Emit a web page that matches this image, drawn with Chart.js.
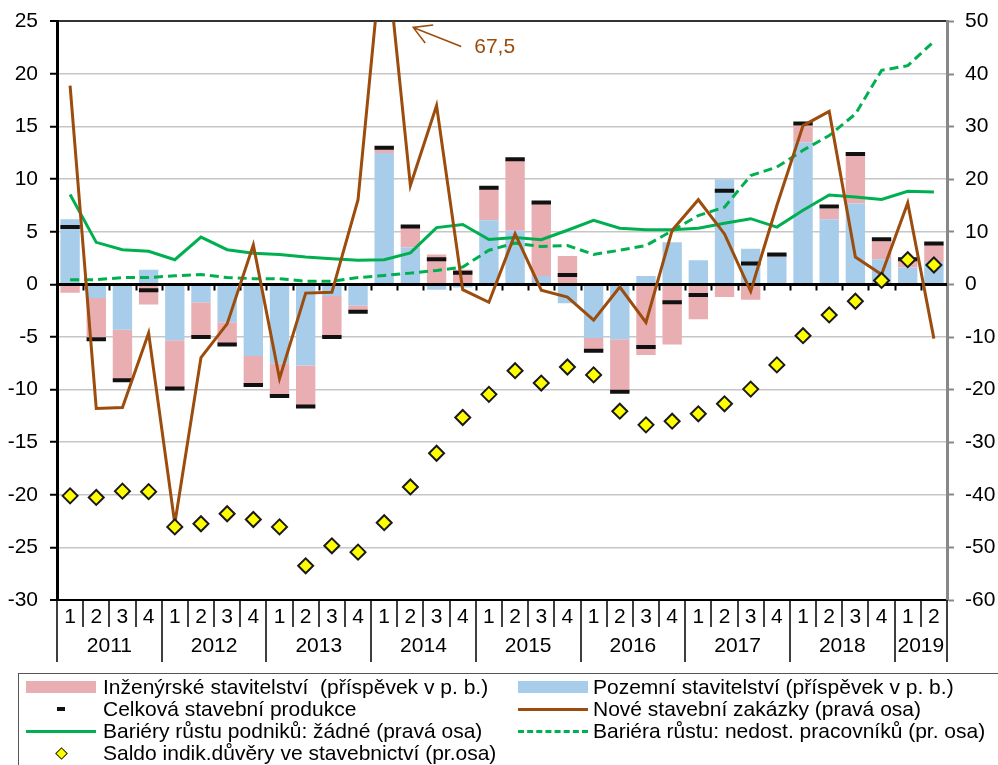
<!DOCTYPE html>
<html>
<head>
<meta charset="utf-8">
<script src="https://cdn.jsdelivr.net/npm/chart.js@4/dist/chart.umd.min.js"></script>
<style>
  html, body { margin: 0; padding: 0; background: #fff; }
  body { width: 998px; height: 765px; position: relative; overflow: hidden; font-family: 'Liberation Sans', Arial, sans-serif; }
  #chart { position: absolute; left: 0; top: 0; }
  .legend { position: absolute; left: 18px; top: 673px; width: 990px; height: 110px; border: 1px solid #555; box-sizing: border-box; }
  .item { position: absolute; font-size: 21px; color: #000; white-space: pre; line-height: 22px; height: 22px; }
  .sw { position: absolute; }
</style>
</head>
<body>
<canvas id="chart" width="998" height="765"></canvas>
<div class="legend" id="legend"></div>
<script>
// quarters 2011Q1 .. 2019Q2
const years = ['2011', '2012', '2013', '2014', '2015', '2016', '2017', '2018', '2019'];
const quarters = [];
years.forEach((y) => ['1', '2', '3', '4'].forEach((q) => { if (!(y === '2019' && +q > 2)) quarters.push(q); }));

// contributions (p. b.), left axis
const pozemni = [6.2, -1.3, -4.3, 1.4, -5.3, -1.7, -3.6, -6.8, -7.5, -7.7, -1.1, -2.0, 12.5, 3.5, -0.5, -0.3,
  6.1, 5.1, 0.8, -1.8, -5.1, -5.2, 0.8, 4.0, 2.3, 10.0, 3.4, 2.6, 13.5, 6.2, 7.7, 2.4, 1.6, 2.1];
const inzenyrske = [-0.8, -3.7, -4.7, -1.9, -4.5, -3.2, -2.0, -2.8, -3.1, -3.8, -3.8, -0.5, 0.4, 1.9, 2.85, 1.4,
  3.0, 6.7, 6.9, 2.7, -1.2, -5.0, -6.7, -5.7, -3.3, -1.2, -1.45, 0.2, 1.6, 1.0, 4.6, 1.7, 0.6, 1.7];
const celkova = [5.45, -5.2, -9.1, -0.55, -9.9, -5.0, -5.7, -9.55, -10.6, -11.6, -5.0, -2.6, 13.0, 5.5, 2.4, 1.1,
  9.2, 11.9, 7.8, 0.9, -6.3, -10.2, -5.95, -1.7, -1.0, 8.9, 2.0, 2.85, 15.3, 7.4, 12.4, 4.3, 2.4, 3.9];

// right axis
const zakazky = [37.8, -23.6, -23.4, -9.25, -45.5, -13.9, -7.5, 7.5, -17.9, -1.65, -1.5, 16.1, 67.5, 18.8, 34.0, -1.0,
  -3.4, 9.6, -1.1, -2.4, -6.8, -0.5, -7.2, 10.3, 16.1, 9.6, -1.3, 15.0, 30.2, 32.9, 5.2, 1.9, 15.5, -10.3];
const barieryZadne = [17.1, 8.0, 6.6, 6.3, 4.7, 9.0, 6.6, 5.95, 5.7, 5.2, 4.9, 4.6, 4.7, 6.0, 10.8, 11.4,
  8.55, 8.9, 8.5, 10.3, 12.2, 10.7, 10.4, 10.4, 10.7, 11.65, 12.5, 10.9, 14.1, 17.0, 16.6, 16.15, 17.7, 17.55];
const barieraPracovnici = [0.9, 0.9, 1.3, 1.3, 1.65, 1.9, 1.3, 1.1, 1.1, 0.6, 0.6, 1.3, 1.7, 2.15, 2.65, 3.3,
  6.5, 7.85, 7.2, 7.4, 5.7, 6.5, 7.4, 10.2, 13.1, 14.7, 20.7, 22.3, 25.5, 28.3, 32.4, 40.7, 41.6, 46.2];
const saldo = [-40.2, -40.5, -39.3, -39.4, -46.1, -45.5, -43.6, -44.7, -46.1, -53.5, -49.7, -50.9, -45.3, -38.5, -32.1, -25.3,
  -20.9, -16.4, -18.75, -15.7, -17.2, -24.1, -26.7, -26.0, -24.6, -22.7, -19.9, -15.3, -9.75, -5.8, -3.2, 0.76, 4.7, 3.7];

const PINK = '#E8AEB1', BLUE = '#A7CDEA', BROWN = '#9C4C0C', GREEN = '#00B050', YELLOW = '#FFFF00';
const FONT = "'Liberation Sans', Arial, sans-serif";

Chart.defaults.font.family = FONT;
Chart.defaults.font.size = 21;
Chart.defaults.color = '#000';

// category axis with quarters + years, ticks on zero line, zero line, note
const decor = {
  id: 'decor',
  beforeDatasetsDraw(chart) {
    const { ctx, chartArea: a, scales: { x, y } } = chart;
    const step = x.width / quarters.length;
    const y0 = y.getPixelForValue(0);
    ctx.save();
    ctx.strokeStyle = '#000';
    ctx.lineWidth = 2;
    ctx.beginPath();
    for (let i = 1; i < quarters.length; i++) {
      const bx = Math.round(a.left + i * step) + 0.5;
      ctx.moveTo(bx, y0);
      ctx.lineTo(bx, y0 + 6);
    }
    ctx.stroke();
    ctx.restore();
  },
  afterDatasetDraw(chart, args) {
    if (args.index !== 0) return;
    const { ctx, chartArea: a, scales: { y } } = chart;
    const y0 = y.getPixelForValue(0);
    ctx.save();
    ctx.strokeStyle = '#000';
    ctx.lineWidth = 3;
    ctx.beginPath();
    ctx.moveTo(a.left, y0);
    ctx.lineTo(a.right, y0);
    ctx.stroke();
    ctx.restore();
  },
  afterDraw(chart) {
    const { ctx, chartArea: a, scales: { x } } = chart;
    const step = x.width / quarters.length;
    ctx.save();
    ctx.strokeStyle = '#000';
    ctx.lineWidth = 1.5;
    ctx.beginPath();
    for (let i = 0; i <= quarters.length; i++) {
      const bx = Math.round(a.left + i * step);
      const yearEdge = i % 4 === 0 || i === quarters.length;
      ctx.moveTo(bx, a.bottom);
      ctx.lineTo(bx, a.bottom + (yearEdge ? 62 : 27));
    }
    ctx.stroke();
    ctx.fillStyle = '#000';
    ctx.font = '21px ' + FONT;
    ctx.textAlign = 'center';
    ctx.textBaseline = 'middle';
    quarters.forEach((q, i) => ctx.fillText(q, x.getPixelForValue(i), a.bottom + 17));
    years.forEach((yr, k) => {
      const first = k * 4;
      const last = Math.min(first + 3, quarters.length - 1);
      const cx = (x.getPixelForValue(first) + x.getPixelForValue(last)) / 2;
      ctx.fillText(yr, cx, a.bottom + 46);
    });

    // note for the clipped value
    const xp = x.getPixelForValue(12);
    const tip = [xp + 29, a.top + 6], tail = [xp + 77, a.top + 25];
    ctx.strokeStyle = BROWN;
    ctx.lineWidth = 1.5;
    ctx.beginPath();
    ctx.moveTo(tail[0], tail[1]);
    ctx.lineTo(tip[0], tip[1]);
    ctx.moveTo(tip[0] + 20, tip[1] - 2.5);
    ctx.lineTo(tip[0], tip[1]);
    ctx.lineTo(tip[0] + 12, tip[1] + 15.5);
    ctx.stroke();
    ctx.fillStyle = BROWN;
    ctx.font = '21px ' + FONT;
    ctx.textAlign = 'left';
    ctx.fillText(zakazky[12].toString().replace('.', ','), xp + 90, a.top + 26);
    ctx.restore();
  },
};

const gridColor = (c) => (c.tick.value === 25 ? '#333' : c.tick.value === -30 ? '#000' : c.tick.value === 0 ? 'rgba(0,0,0,0)' : '#C6C6C6');
const tickFont = { size: 21, lineHeight: 0.9 };

new Chart(document.getElementById('chart'), {
  data: {
    labels: quarters,
    datasets: [
      { type: 'bar', label: 'Pozemní stavitelství (příspěvek v p. b.)', data: pozemni, backgroundColor: BLUE, yAxisID: 'y', stack: 's', order: 10, barPercentage: 0.74, categoryPercentage: 1 },
      { type: 'bar', label: 'Inženýrské stavitelství  (příspěvek v p. b.)', data: inzenyrske, backgroundColor: PINK, yAxisID: 'y', stack: 's', order: 10, barPercentage: 0.74, categoryPercentage: 1 },
      { type: 'line', label: 'Celková stavební produkce', data: celkova, yAxisID: 'y', showLine: false, order: 5,
        pointStyle: 'line', pointRadius: 9.7, pointBorderWidth: 4, pointBorderColor: '#111', pointBackgroundColor: '#111' },
      { type: 'line', label: 'Bariéra růstu: nedost. pracovníků (pr. osa)', data: barieraPracovnici, yAxisID: 'y1', order: 4,
        borderColor: GREEN, borderWidth: 3, borderDash: [9, 5], pointRadius: 0, tension: 0 },
      { type: 'line', label: 'Bariéry růstu podniků: žádné (pravá osa)', data: barieryZadne, yAxisID: 'y1', order: 3,
        borderColor: GREEN, borderWidth: 3, pointRadius: 0, tension: 0 },
      { type: 'line', label: 'Nové stavební zakázky (pravá osa)', data: zakazky, yAxisID: 'y1', order: 2,
        borderColor: BROWN, borderWidth: 3, pointRadius: 0, tension: 0 },
      { type: 'line', label: 'Saldo indik.důvěry ve stavebnictví (pr.osa)', data: saldo, yAxisID: 'y1', showLine: false, order: 1,
        pointStyle: 'rectRot', pointRadius: 7.5, pointBorderWidth: 2, pointBorderColor: '#1a1a1a', pointBackgroundColor: YELLOW },
    ],
  },
  options: {
    responsive: false,
    animation: false,
    events: [],
    layout: { padding: { top: 21, left: 0, right: 0, bottom: 0 } },
    plugins: { legend: { display: false }, tooltip: { enabled: false } },
    scales: {
      x: {
        stacked: true,
        ticks: { display: false },
        grid: { display: false },
        border: { display: false },
        afterFit: (s) => { s.height = 165; },
      },
      y: {
        position: 'left',
        stacked: true,
        min: -30, max: 25,
        ticks: { stepSize: 5, padding: 12, color: '#000', font: tickFont },
        grid: { color: gridColor, lineWidth: (c) => (c.tick.value === 25 || c.tick.value === -30 ? 2 : 1.5), tickColor: '#000', tickLength: 7, tickWidth: 2 },
        border: { display: true, color: '#000', width: 3 },
        afterFit: (s) => { s.width = 57; },
      },
      y1: {
        position: 'right',
        min: -60, max: 50,
        ticks: { stepSize: 10, padding: 11, color: '#000', font: tickFont },
        grid: { drawOnChartArea: false, tickColor: '#888', tickLength: 7, tickWidth: 2 },
        border: { display: true, color: '#888', width: 3 },
        afterFit: (s) => { s.width = 51; },
      },
    },
  },
  plugins: [decor],
});

// legend
const legendItems = [
  { col: 0, row: 0, text: 'Inženýrské stavitelství  (příspěvek v p. b.)', kind: 'box', color: PINK },
  { col: 1, row: 0, text: 'Pozemní stavitelství (příspěvek v p. b.)', kind: 'box', color: BLUE },
  { col: 0, row: 1, text: 'Celková stavební produkce', kind: 'dash', color: '#111' },
  { col: 1, row: 1, text: 'Nové stavební zakázky (pravá osa)', kind: 'line', color: BROWN },
  { col: 0, row: 2, text: 'Bariéry růstu podniků: žádné (pravá osa)', kind: 'line', color: GREEN },
  { col: 1, row: 2, text: 'Bariéra růstu: nedost. pracovníků (pr. osa)', kind: 'dashed', color: GREEN },
  { col: 0, row: 3, text: 'Saldo indik.důvěry ve stavebnictví (pr.osa)', kind: 'diamond', color: YELLOW },
];
const legend = document.getElementById('legend');
const colX = [[7, 84], [499, 574]];
legendItems.forEach((it) => {
  const cy = 13 + it.row * 22;
  const [sx, tx] = colX[it.col];
  const sw = document.createElement('div');
  sw.className = 'sw';
  if (it.kind === 'box') Object.assign(sw.style, { left: sx + 'px', top: cy - 6 + 'px', width: '70px', height: '12px', background: it.color });
  if (it.kind === 'line') Object.assign(sw.style, { left: sx + 'px', top: cy - 1.5 + 'px', width: '70px', height: '3px', background: it.color });
  if (it.kind === 'dashed') Object.assign(sw.style, { left: sx + 'px', top: cy - 1.5 + 'px', width: '70px', height: '0px', borderTop: '3px dashed ' + it.color });
  if (it.kind === 'dash') Object.assign(sw.style, { left: sx + 31 + 'px', top: cy - 2 + 'px', width: '8px', height: '4px', background: it.color });
  if (it.kind === 'diamond') Object.assign(sw.style, { left: sx + 31 + 'px', top: cy - 4 + 'px', width: '7px', height: '7px', background: it.color, border: '1.5px solid #222', transform: 'rotate(45deg)' });
  legend.appendChild(sw);
  const t = document.createElement('div');
  t.className = 'item';
  t.style.left = tx + 'px';
  t.style.top = cy - 11 + 'px';
  t.textContent = it.text;
  legend.appendChild(t);
});
</script>
</body>
</html>
